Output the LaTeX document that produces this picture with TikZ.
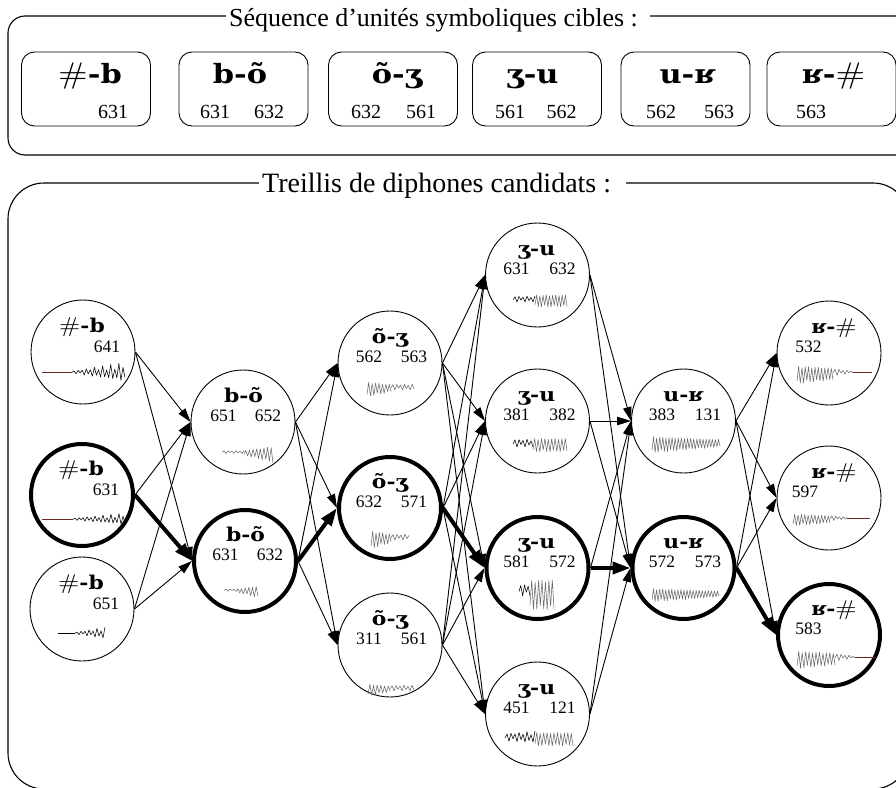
\documentclass[tikz,border=0pt]{standalone}
\usepackage{fontspec}
\setmainfont{Liberation Serif}
\newfontfamily\phonfont{DejaVu Serif}[FakeStretch=1.15]
\newfontfamily\hashfont{lmroman10-regular}[Extension=.otf,FakeStretch=1.2]
\usetikzlibrary{arrows.meta}

\definecolor{voiced}{gray}{0.42}
\definecolor{silence}{RGB}{105,40,40}

% word-boundary symbol of the phonetic labels
\newcommand{\bnd}{{\hashfont\scalebox{1.12}{\#}}}

% irregular zigzag (noise) and periodic comb (voiced speech)
\newcommand{\noisy}[6]{%
  \draw[wave,#6] plot[samples at={0,...,#4}, variable=\i]
    ({#1+#3*\i/#4},{#2+(#5)*cos(180*\i)*(0.25+0.75*abs(sin(\i*137.5)))});}
\newcommand{\pulses}[6]{%
  \draw[wave,#6] plot[samples at={0,...,#4}, variable=\i]
    ({#1+#3*\i/#4},{#2+(#5)*(mod(\i,2)==0 ? 1.0 : -0.5)*(0.75+0.25*abs(sin(\i*61)))});}

\begin{document}
\begin{tikzpicture}[x=1pt,y=-1pt,line join=round,
  frame/.style={draw,line width=1.1pt},
  boxtitle/.style={fill=white,anchor=base west,inner xsep=3pt,inner ysep=2pt},
  unitbox/.style={draw,line width=0.9pt,rounded corners=13pt,
    minimum width=129pt,minimum height=74pt,inner sep=0pt},
  bigphon/.style={anchor=base,inner sep=0pt,font=\phonfont\bfseries\fontsize{26.5}{28}\selectfont},
  bignum/.style={anchor=base,inner sep=0pt,font=\fontsize{20}{22}\selectfont},
  cand/.style={draw,circle,line width=0.9pt,minimum size=104pt,inner sep=0pt},
  chosen/.style={cand,line width=4pt,minimum size=102pt},
  phon/.style={anchor=base,inner sep=0pt,font=\phonfont\bfseries\fontsize{19}{21}\selectfont},
  num/.style={anchor=base,inner sep=0pt,font=\fontsize{17.5}{19}\selectfont},
  wave/.style={line width=0.55pt},
  link/.style={line width=0.9pt,-{Triangle[length=14pt,width=8.5pt]}},
  bestlink/.style={line width=4pt,-{Triangle[length=18pt,width=12pt]}}]

\useasboundingbox (0,0) rectangle (896,787);
\clip (0,0) rectangle (896,787);

% ---------- target sequence ----------
\draw[frame,rounded corners=17pt] (8,16) rectangle (930,155);
\node[boxtitle,font=\fontsize{26}{28}\selectfont] (seqtitle) at (226,26)
  {Séquence d’unités symboliques cibles :\kern9pt};

\node[unitbox] (U1) at (86,89) {};
\node[unitbox] (U2) at (243.5,89) {};
\node[unitbox] (U3) at (393,89) {};
\node[unitbox] (U4) at (537,89) {};
\node[unitbox] (U5) at (685.5,89) {};
\node[unitbox] (U6) at (831.5,89) {};

\node[bigphon] (U1l) at (90,83) {\bnd-b};
\node[bigphon] (U2l) at (240,83) {b-õ};
\node[bigphon] (U3l) at (397,83) {õ-ʒ};
\node[bigphon] (U4l) at (532.5,83) {ʒ-u};
\node[bigphon] (U5l) at (687.5,83) {u-ʁ};
\node[bigphon] (U6l) at (833.5,83) {ʁ-\bnd};

\node[bignum] (U1b) at (113,118) {631};
\node[bignum] (U2a) at (215,118) {631};
\node[bignum] (U2b) at (269,118) {632};
\node[bignum] (U3a) at (366,118) {632};
\node[bignum] (U3b) at (421,118) {561};
\node[bignum] (U4a) at (510,118) {561};
\node[bignum] (U4b) at (561.5,118) {562};
\node[bignum] (U5a) at (661,118) {562};
\node[bignum] (U5b) at (719,118) {563};
\node[bignum] (U6a) at (811,118) {563};

% ---------- candidate lattice ----------
\draw[frame,rounded corners=36pt] (8,183) rectangle (909,789);
\node[boxtitle,font=\fontsize{28}{30}\selectfont] (latttitle) at (259,192)
  {Treillis de diphones candidats :\kern12pt};

% column 1 : #-b
\node[cand]   (A1) at (83,352) {};
\node[chosen] (A2) at (82,495) {};
\node[cand]   (A3) at (82,609) {};
% column 2 : b-õ
\node[cand]   (B1) at (243,422) {};
\node[chosen] (B2) at (245,561) {};
% column 3 : õ-ʒ
\node[cand]   (C1) at (390,363) {};
\node[chosen] (C2) at (390,508) {};
\node[cand]   (C3) at (390,645) {};
% column 4 : ʒ-u
\node[cand]   (D1) at (537.5,275) {};
\node[cand]   (D2) at (537.5,421) {};
\node[chosen] (D3) at (537.5,568) {};
\node[cand]   (D4) at (537.5,714) {};
% column 5 : u-ʁ
\node[cand]   (E1) at (683.5,421) {};
\node[chosen] (E2) at (683.5,568) {};
% column 6 : ʁ-#
\node[cand]   (F1) at (829,353) {};
\node[cand]   (F2) at (829,498) {};
\node[chosen] (F3) at (829,635) {};

% labels and unit numbers
\node[phon] (A1l) at (82,332) {\bnd-b};
\node[num]  (A1n) at (107,352) {641};
\node[phon] (A2l) at (81,475) {\bnd-b};
\node[num]  (A2n) at (106,495) {631};
\node[phon] (A3l) at (81,589) {\bnd-b};
\node[num]  (A3n) at (106,609) {651};

\node[phon] (B1l) at (243.5,402) {b-õ};
\node[num]  (B1a) at (223.5,421) {651};
\node[num]  (B1b) at (268,421) {652};
\node[phon] (B2l) at (245.5,541) {b-õ};
\node[num]  (B2a) at (225.5,560) {631};
\node[num]  (B2b) at (270,560) {632};

\node[phon] (C1l) at (390,343) {õ-ʒ};
\node[num]  (C1a) at (369,362) {562};
\node[num]  (C1b) at (414,362) {563};
\node[phon] (C2l) at (390,488) {õ-ʒ};
\node[num]  (C2a) at (369,507) {632};
\node[num]  (C2b) at (414,507) {571};
\node[phon] (C3l) at (390,625) {õ-ʒ};
\node[num]  (C3a) at (369,644) {311};
\node[num]  (C3b) at (414,644) {561};

\node[phon] (D1l) at (536.5,255) {ʒ-u};
\node[num]  (D1a) at (516.5,274) {631};
\node[num]  (D1b) at (562.5,274) {632};
\node[phon] (D2l) at (536.5,401) {ʒ-u};
\node[num]  (D2a) at (516.5,420) {381};
\node[num]  (D2b) at (562.5,420) {382};
\node[phon] (D3l) at (536.5,548) {ʒ-u};
\node[num]  (D3a) at (516.5,567) {581};
\node[num]  (D3b) at (562.5,567) {572};
\node[phon] (D4l) at (536.5,694) {ʒ-u};
\node[num]  (D4a) at (516.5,713) {451};
\node[num]  (D4b) at (562.5,713) {121};

\node[phon] (E1l) at (683.5,401) {u-ʁ};
\node[num]  (E1a) at (662,420) {383};
\node[num]  (E1b) at (708,420) {131};
\node[phon] (E2l) at (683.5,548) {u-ʁ};
\node[num]  (E2a) at (662,567) {572};
\node[num]  (E2b) at (708,567) {573};

\node[phon] (F1l) at (834,333) {ʁ-\bnd};
\node[num]  (F1n) at (808.5,352) {532};
\node[phon] (F2l) at (834,478) {ʁ-\bnd};
\node[num]  (F2n) at (805,497) {597};
\node[phon] (F3l) at (834,615) {ʁ-\bnd};
\node[num]  (F3n) at (808.5,634) {583};

% waveforms
\draw[wave,silence] (42,372) -- (72,372);
\noisy{72}{372}{53}{26}{1+9*\i/26}{black}
\draw[wave,silence] (42,519) -- (73,519);
\noisy{73}{519}{52}{26}{1+5*\i/26}{black}
\draw[wave,black] (58,633) -- (75,633);
\noisy{75}{633}{30}{15}{1+5*\i/15}{black}

\noisy{222}{452}{22}{11}{1.5}{voiced}
\pulses{244}{452}{29}{16}{3+8*\i/16}{voiced}
\noisy{224}{590}{12}{6}{1.2}{voiced}
\pulses{236}{590}{22}{12}{2+6*\i/12}{voiced}

\pulses{367}{387}{24}{14}{10-5*\i/14}{voiced}
\noisy{391}{387}{23}{12}{3}{voiced}
\pulses{371}{537}{20}{12}{12-6*\i/12}{voiced}
\noisy{391}{537}{18}{9}{3}{voiced}
\pulses{368}{688}{22}{12}{8-4*\i/12}{voiced}
\noisy{390}{688}{24}{12}{3}{voiced}

\noisy{513}{299}{22}{11}{3}{black}
\pulses{535}{299}{32}{20}{8}{voiced}
\noisy{513}{443}{20}{10}{4}{black}
\pulses{533}{443}{34}{20}{9}{voiced}
\noisy{519}{590}{11}{6}{6}{black}
\pulses{530}{590}{24}{14}{20}{voiced}
\noisy{505}{737}{30}{15}{4+2*\i/15}{black}
\pulses{535}{737}{38}{22}{9}{voiced}

\pulses{652}{442}{68}{44}{11-6*\i/44}{voiced}
\pulses{652}{593}{67}{44}{9-5*\i/44}{voiced}

\pulses{797}{372}{36}{22}{12-4*\i/22}{voiced}
\noisy{833}{372}{20}{10}{4-3*\i/10}{voiced}
\draw[wave,silence] (853,372) -- (872,372);
\pulses{793}{518}{37}{22}{8-3*\i/22}{voiced}
\noisy{830}{518}{17}{9}{3-2*\i/9}{voiced}
\draw[wave,silence] (847,518) -- (870,518);
\pulses{797}{657}{38}{22}{12-4*\i/22}{voiced}
\noisy{835}{657}{20}{10}{4-3*\i/10}{voiced}
\draw[wave,silence] (855,657) -- (876,657);

% transitions between candidates
\foreach \s/\t in {A1/B1,A1/B2,A2/B1,A3/B1,A3/B2,
                   B1/C1,B1/C2,B1/C3,B2/C1,B2/C3,
                   C1/D1,C1/D2,C1/D3,C1/D4,C2/D1,C2/D2,C2/D4,C3/D1,C3/D2,C3/D3,C3/D4,
                   D1/E1,D1/E2,D2/E1,D2/E2,D3/E1,D4/E1,D4/E2,
                   E1/F1,E1/F2,E1/F3,E2/F1,E2/F2}
  \draw[link] (\s.east) -- (\t.west);
% selected path
\foreach \s/\t in {A2/B2,B2/C2,C2/D3,D3/E2,E2/F3}
  \draw[bestlink] (\s.east) -- (\t.west);
\end{tikzpicture}
\end{document}
